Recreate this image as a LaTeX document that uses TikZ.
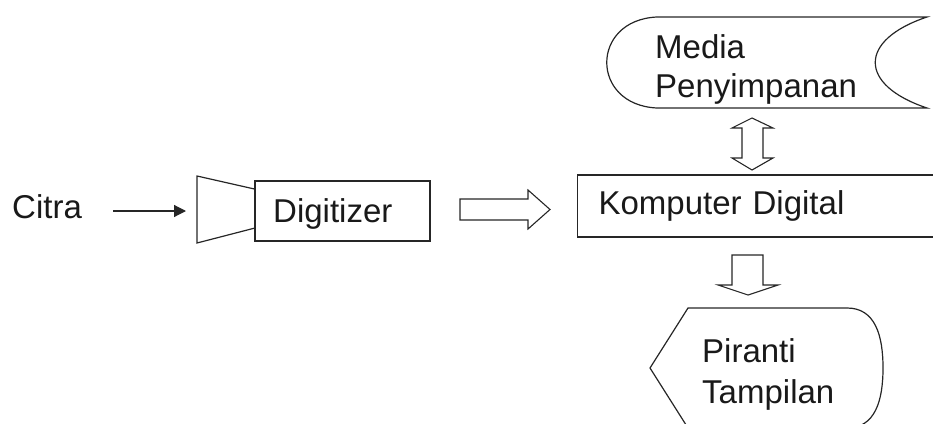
\documentclass[tikz,border=0pt]{standalone}
\usepackage{fontspec}
\setmainfont{Liberation Sans}
\usepackage{tikz}
\usetikzlibrary{arrows.meta}

\begin{document}
\begin{tikzpicture}[x=1pt, y=-1pt,
    lbl/.style={font=\fontsize{33}{40}\selectfont, text=black!90, inner sep=0pt},
    shapeline/.style={draw=black!85, line width=1.2pt},
    blockarrow/.style={draw=black!85, line width=1.1pt, fill=white, line join=miter}]

        \clip (0,0) rectangle (933,423);

        % input
        \node[lbl, anchor=base west] (citra) at (12,218) {Citra};
        \coordinate (citraend) at (113,211);
        \coordinate (trapin) at (186,211);
        \draw[black!85, line width=1.2pt, -{Triangle[length=12pt,width=12pt]}] (citraend) -- (trapin);

        % digitizer
        \node[shapeline, rectangle, minimum width=175pt, minimum height=60pt] (dig) at (342.5,211) {};
        \draw[shapeline] (dig.west) ++(0,-22) -- (197,176) -- (197,243) -- (255,228);
        \node[lbl, anchor=base west] (digtxt) at (273,222) {Digitizer};

        % komputer
        \node[shapeline, lbl, anchor=west, text width=348pt, inner xsep=21pt, minimum height=62pt] (komp) at (577,206) {Komputer Digital};
        \draw[blockarrow] (460,199) -- (528,199) -- (528,190) -- (550,209.5) -- (528,229) -- (528,220) -- (460,220) -- cycle;

        % media penyimpanan
        \draw[shapeline] (657,17) -- (927,17) .. controls (858,40) and (858,85) .. (927,108)
            -- (657,108) .. controls (590,105) and (590,20) .. cycle;
        \node[lbl, anchor=base west] (media) at (655,58) {Media};
        \node[lbl, anchor=base west] (penyimpanan) at (655,97) {Penyimpanan};
        \draw[blockarrow] (752,118) -- (773,128) -- (763,128) -- (763,158) -- (773,158) -- (752,170)
            -- (732,158) -- (742,158) -- (742,128) -- (732,128) -- cycle;

        % piranti tampilan
        \draw[blockarrow] (732,255) -- (763,255) -- (763,285) -- (778,285) -- (748,295) -- (718,285) -- (732,285) -- cycle;
        \draw[shapeline] (688,308) -- (847,308) .. controls (875,308) and (883,335) .. (883,368)
            .. controls (883,401) and (875,428) .. (847,428) -- (688,428) -- (650,368) -- cycle;
        \node[lbl, anchor=base west] (piranti) at (702,362) {Piranti};
        \node[lbl, anchor=base west] (tampilan) at (702,403) {Tampilan};

\end{tikzpicture}
\end{document}
